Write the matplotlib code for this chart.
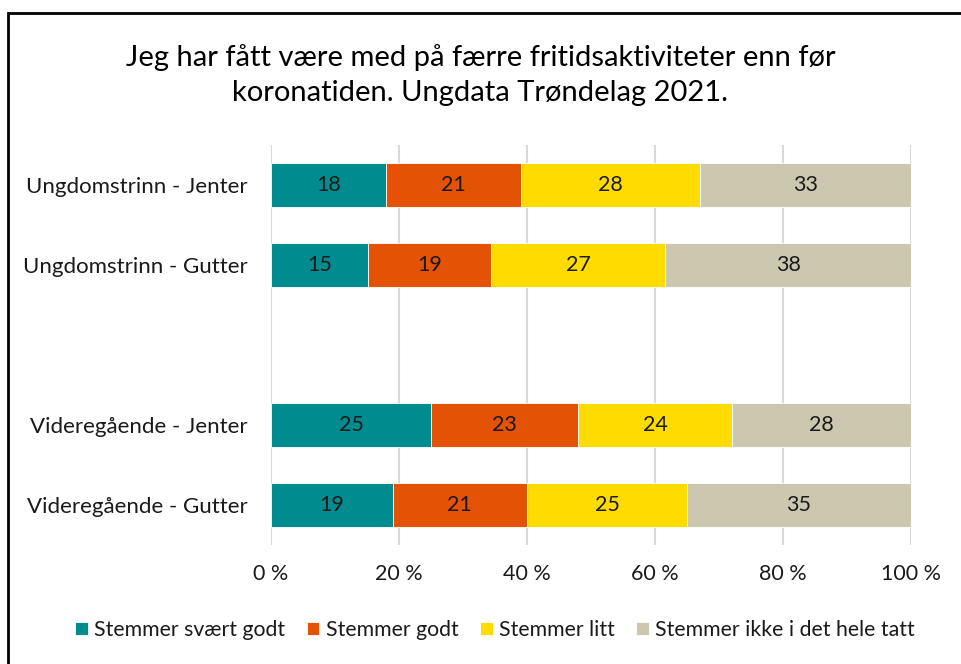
import numpy as np
import matplotlib.pyplot as plt
from matplotlib.patches import Rectangle

# Data
grupper = ["Ungdomstrinn - Jenter", "Ungdomstrinn - Gutter", "",
           "Videregående - Jenter", "Videregående - Gutter"]
svaert_godt = [18, 15, 0, 25, 19]
godt = [21, 19, 0, 23, 21]
litt = [28, 27, 0, 24, 25]
ikke = [33, 38, 0, 28, 35]
serier = ["Stemmer svært godt", "Stemmer godt", "Stemmer litt",
          "Stemmer ikke i det hele tatt"]
tittel = "Jeg har fått være med på færre fritidsaktiviteter enn før\nkoronatiden. Ungdata Trøndelag 2021."

farger = ["#008B8F", "#E35205", "#FFDB00", "#CCC8B0"]
plt.rcParams['font.family'] = ['Lato', 'DejaVu Sans']

verdier = np.array([svaert_godt, godt, litt, ikke], dtype=float)
sum_rad = verdier.sum(axis=0)
sum_rad[sum_rad == 0] = 1
andel = verdier / sum_rad * 100

fig = plt.figure(figsize=(9.61, 6.64), dpi=100)
ax = fig.add_axes([271/961, 1-545/664, 640/961, 400/664])

y = np.arange(len(grupper))
med = verdier.sum(axis=0) > 0   # tom rad gir luft mellom trinnene
venstre = np.zeros(len(grupper))
for i in range(4):
    ax.barh(y[med], andel[i][med], left=venstre[med], height=0.55, color=farger[i],
            edgecolor="white", linewidth=0.6, label=serier[i], zorder=3)
    for j in np.where(med)[0]:
        ax.text(venstre[j] + andel[i, j]/2, y[j], "%d" % verdier[i, j],
                ha="center", va="center", fontsize=15.5, color="#1a1a1a", zorder=4)
    venstre += andel[i]

ax.set_xlim(0, 100)
ax.set_ylim(4.5, -0.5)
ax.set_xticks(np.arange(0, 101, 20))
ax.set_xticklabels(["%d %%" % v for v in range(0, 101, 20)], fontsize=15.5, color="#1a1a1a")
ax.set_yticks(y)
ax.set_yticklabels(grupper, fontsize=16, color="#1a1a1a")
ax.tick_params(length=0, pad=14, axis="x")
ax.tick_params(length=0, pad=16.5, axis="y")
ax.xaxis.grid(True, color="#D9D9D9", linewidth=1.5, zorder=0)
for s in ax.spines.values():
    s.set_visible(False)

fig.text(0.5, 1-75/664, tittel, ha="center", va="center", fontsize=21,
         color="#000000", linespacing=1.42)

fig.legend(loc="center", bbox_to_anchor=(495/961, 1-630/664), ncol=4, frameon=False,
           fontsize=15.3, handlelength=0.6, handleheight=0.6, handletextpad=0.3,
           columnspacing=1.0, labelcolor="#1a1a1a")

# ramme rundt figuren
fig.patches.append(Rectangle((8/961, -0.1), 1.2, 1-12.5/664+0.1, transform=fig.transFigure,
                             fill=False, edgecolor="black", linewidth=2))

fig.savefig("out.png", dpi=100)
